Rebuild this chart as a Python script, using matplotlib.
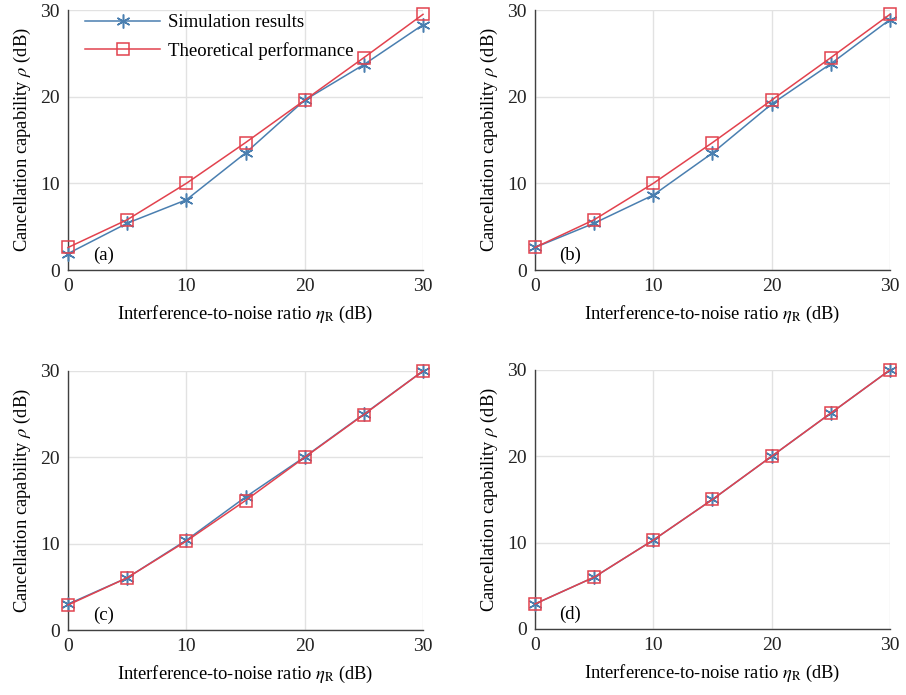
import matplotlib as mpl

mpl.use("Agg")

import matplotlib.pyplot as plt

plt.rcParams["font.family"] = ["Liberation Serif", "DejaVu Serif"]
plt.rcParams["mathtext.fontset"] = "stix"

# interference-to-noise ratio (dB)
inr = [0, 5, 10, 15, 20, 25, 30]

# cancellation capability (dB)
sim_a = [1.9, 5.4, 8.1, 13.5, 19.6, 23.7, 28.3]
theory_a = [2.6, 5.8, 10.0, 14.7, 19.6, 24.5, 29.5]
sim_b = [2.6, 5.4, 8.65, 13.5, 19.15, 23.8, 28.9]
theory_b = [2.6, 5.8, 10.0, 14.7, 19.6, 24.5, 29.5]
sim_c = [3.0, 6.05, 10.4, 15.4, 20.05, 25.0, 30.0]
theory_c = [2.9, 6.05, 10.3, 15.0, 20.0, 24.95, 30.0]
sim_d = [2.9, 6.0, 10.3, 15.0, 20.0, 25.0, 30.0]
theory_d = [2.9, 6.0, 10.3, 15.0, 20.0, 25.0, 30.0]

panel_tags = ["(a)", "(b)", "(c)", "(d)"]
sims = [sim_a, sim_b, sim_c, sim_d]
theories = [theory_a, theory_b, theory_c, theory_d]

SIM_COLOR = "#4a7fb0"
THEORY_COLOR = "#e2424e"
AXIS_COLOR = "#404040"

fig = plt.figure(figsize=(9.06, 6.95), dpi=100)
rects = [
    [0.0751, 0.6115, 0.3918, 0.3741],
    [0.5905, 0.6115, 0.3918, 0.3741],
    [0.0751, 0.0935, 0.3918, 0.3727],
    [0.5905, 0.0950, 0.3918, 0.3727],
]

for k, rect in enumerate(rects):
    ax = fig.add_axes(rect)
    ax.plot(inr, sims[k], color=SIM_COLOR, linewidth=1.1, marker=(6, 2, 0),
            markersize=10, markeredgewidth=1.1, label="Simulation results",
            zorder=3, clip_on=False)
    ax.plot(inr, theories[k], color=THEORY_COLOR, linewidth=1.1, marker="s",
            markersize=9, markerfacecolor="none", markeredgewidth=1.1,
            label="Theoretical performance", zorder=4, clip_on=False)
    ax.set_xlim(0, 30)
    ax.set_ylim(0, 30)
    ax.set_xticks([0, 10, 20, 30])
    ax.set_yticks([0, 10, 20, 30])
    ax.grid(True, color="#e2e2e2", linewidth=1.0)
    ax.set_axisbelow(True)
    for side in ("top", "right"):
        ax.spines[side].set_visible(False)
    for side in ("left", "bottom"):
        ax.spines[side].set_color(AXIS_COLOR)
        ax.spines[side].set_linewidth(1.0)
    ax.tick_params(length=0, labelsize=14, colors="#222222", pad=6)
    ax.set_xlabel(r"Interference-to-noise ratio $\eta_\mathrm{R}$ (dB)", fontsize=13.3, labelpad=6)
    ax.set_ylabel(r"Cancellation capability $\rho$ (dB)", fontsize=13.3, labelpad=5)
    ax.text(0.10, 0.055, panel_tags[k], transform=ax.transAxes, fontsize=13.5,
            ha="center", va="center")
    if k == 0:
        ax.legend(loc="upper left", bbox_to_anchor=(0.032, 1.005), frameon=False,
                  fontsize=13.5, handlelength=4.0, handletextpad=0.4,
                  borderaxespad=0.0, borderpad=0.3, labelspacing=0.55)

fig.savefig("out.png", dpi=100, facecolor="white")
